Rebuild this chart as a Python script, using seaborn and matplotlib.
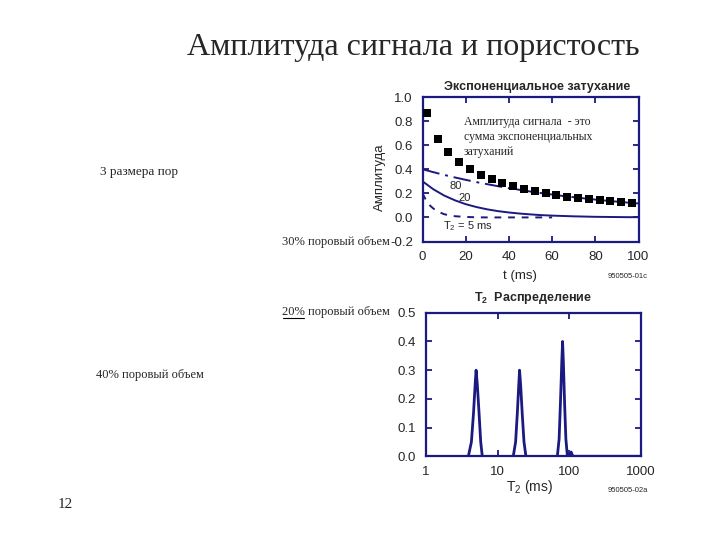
import matplotlib
matplotlib.use("Agg")
import pandas as pd
import matplotlib.pyplot as plt
import seaborn as sns

# Экспоненциальное затухание : сумма (квадраты) и три компоненты
t_sum = [2, 7, 12, 17, 22, 27, 32, 37, 42, 47, 52, 57, 62, 67, 72, 77, 82, 87, 92, 97]
amp_sum = [0.866, 0.655, 0.540, 0.460, 0.402, 0.350, 0.315, 0.283, 0.258, 0.236,
           0.216, 0.199, 0.184, 0.171, 0.160, 0.150, 0.141, 0.133, 0.126, 0.119]

t_comp = [0, 5, 10, 15, 20, 25, 30, 35, 40, 45, 50, 55, 60, 65, 70, 75, 80, 85, 90, 95, 100]
amp_80 = [0.400, 0.376, 0.353, 0.332, 0.312, 0.293, 0.276, 0.259, 0.243, 0.229, 0.215,
          0.202, 0.190, 0.178, 0.168, 0.158, 0.148, 0.139, 0.131, 0.123, 0.116]
amp_20 = [0.300, 0.234, 0.182, 0.142, 0.110, 0.086, 0.067, 0.052, 0.041, 0.032, 0.025,
          0.019, 0.015, 0.012, 0.009, 0.007, 0.005, 0.004, 0.003, 0.002, 0.002]

t_comp5 = [0, 1.25, 2.5, 3.75, 5, 7.5, 10, 12.5, 15, 20, 25, 30, 40, 50, 60]
amp_5 = [0.200, 0.156, 0.121, 0.094, 0.074, 0.045, 0.027, 0.016, 0.010, 0.004,
         0.001, 0.0, 0.0, 0.0, 0.0]

# T2 распределение
t2_p1 = [3.9, 4.3, 4.6, 4.85, 5.0, 5.2, 5.5, 5.8, 6.1]
a_p1 = [0.0, 0.05, 0.15, 0.25, 0.30, 0.25, 0.15, 0.05, 0.0]
t2_p2 = [16.5, 17.8, 18.8, 19.7, 20.2, 20.9, 22.0, 23.3, 24.8]
a_p2 = [0.0, 0.05, 0.15, 0.25, 0.30, 0.25, 0.15, 0.05, 0.0]
t2_p3 = [68, 72, 75, 78.5, 80.5, 82.5, 86, 89.5, 94, 100, 106, 112, 1000]
a_p3 = [0.0, 0.06, 0.18, 0.33, 0.40, 0.33, 0.18, 0.06, 0.0, 0.0, 0.015, 0.0, 0.0]

navy = "#1a1a80"
serif = "Liberation Serif"
sans = "Liberation Sans"

sns.set_style("ticks")
plt.rcParams["font.family"] = [sans, "DejaVu Sans"]
plt.rcParams["mathtext.default"] = "regular"

fig = plt.figure(figsize=(7.2, 5.4), dpi=100)


def px(x, y):
    return x / 720, 1 - y / 540


#--------------------------------------------------------------------------------------------
# Верхний график
#--------------------------------------------------------------------------------------------
ax1 = fig.add_axes([422.5 / 720, 1 - 241.5 / 540, 216 / 720, 144.5 / 540])
sns.lineplot(x=t_comp, y=amp_80, ax=ax1, color=navy, linewidth=1.4)
ax1.lines[-1].set_dashes([9, 3, 1.5, 3])
sns.lineplot(x=t_comp, y=amp_20, ax=ax1, color=navy, linewidth=1.4)
sns.lineplot(x=t_comp5, y=amp_5, ax=ax1, color=navy, linewidth=1.4)
ax1.lines[-1].set_dashes([3.5, 3.5])
sns.scatterplot(x=t_sum, y=amp_sum, ax=ax1, color="black", marker="s", s=38,
                linewidth=0, zorder=5)
ax1.set_xlim(0, 100)
ax1.set_ylim(-0.2, 1.0)
ax1.set_xticks([0, 20, 40, 60, 80, 100])
ax1.set_yticks([-0.2, 0.0, 0.2, 0.4, 0.6, 0.8, 1.0])
ax1.set_yticklabels(["-0.2", "0.0", "0.2", "0.4", "0.6", "0.8", "1.0"])
ax1.tick_params(direction="in", top=True, right=True, length=4, width=1.3,
                color=navy, labelsize=9.5, pad=7)
ax1.get_yticklabels()[0].set_y(-0.17)
for s in ax1.spines.values():
    s.set_visible(True)
    s.set_color(navy)
    s.set_linewidth(1.6)
ax1.set_xlabel("")
ax1.set_ylabel("")

fig.text(*px(537, 87), "Экспоненциальное затухание", fontsize=9, fontweight="bold",
         ha="center", va="center")
fig.text(*px(380, 177), "Амплитуда", fontsize=9.5, rotation=90, ha="center", va="center")
fig.text(*px(520, 276), "t (ms)", fontsize=9.5, ha="center", va="center")
fig.text(*px(628, 277), "950505-01c", fontsize=5.5, ha="center", va="center")
fig.text(*px(464, 137), "Амплитуда сигнала  - это\nсумма экспоненциальных\nзатуханий",
         fontsize=8.5, family=serif, ha="left", va="center", linespacing=1.3)
fig.text(*px(456, 186), "80", fontsize=8, ha="center", va="center")
fig.text(*px(465, 198), "20", fontsize=8, ha="center", va="center")
fig.text(*px(443, 226), "T$_2$ = 5 ms", fontsize=8, ha="left", va="center")

#--------------------------------------------------------------------------------------------
# Нижний график
#--------------------------------------------------------------------------------------------
dist = pd.DataFrame({
    "t2": t2_p1 + t2_p2 + t2_p3,
    "amp": a_p1 + a_p2 + a_p3,
    "peak": [1] * len(t2_p1) + [2] * len(t2_p2) + [3] * len(t2_p3),
})
ax2 = fig.add_axes([426 / 720, 1 - 456.3 / 540, 215 / 720, 143.5 / 540])
sns.lineplot(data=dist, x="t2", y="amp", units="peak", estimator=None, ax=ax2,
             color=navy, linewidth=2.0)
ax2.set_xscale("log")
ax2.set_xlim(1, 1000)
ax2.set_ylim(0, 0.5)
ax2.set_xticks([1, 10, 100, 1000])
ax2.set_xticklabels(["1", "10", "100", "1000"])
ax2.xaxis.set_minor_locator(matplotlib.ticker.NullLocator())
ax2.set_yticks([0.0, 0.1, 0.2, 0.3, 0.4, 0.5])
ax2.set_yticklabels(["0.0", "0.1", "0.2", "0.3", "0.4", "0.5"])
ax2.tick_params(direction="in", top=True, right=True, length=4, width=1.3,
                color=navy, labelsize=9.5, pad=7)
for s in ax2.spines.values():
    s.set_visible(True)
    s.set_color(navy)
    s.set_linewidth(1.6)
ax2.set_xlabel("")
ax2.set_ylabel("")

fig.text(*px(533, 298), "T$_2$  Распределение", fontsize=9, fontweight="bold",
         ha="center", va="center")
fig.text(*px(530, 487), "T$_2$ (ms)", fontsize=10, ha="center", va="center")
fig.text(*px(628, 490), "950505-02a", fontsize=5.5, ha="center", va="center")

#--------------------------------------------------------------------------------------------
# Текст слайда
#--------------------------------------------------------------------------------------------
fig.text(*px(413, 47), "Амплитуда сигнала и пористость", fontsize=23, family=serif,
         ha="center", va="center")
fig.text(*px(100, 172), "3 размера пор", fontsize=9.5, family=serif, ha="left", va="center")
fig.text(*px(390, 242), "30% поровый объем", fontsize=9, family=serif, ha="right", va="center")
fig.text(*px(390, 312), "20% поровый объем", fontsize=9, family=serif,
         ha="right", va="center")
fig.text(*px(96, 375), "40% поровый объем", fontsize=9, family=serif, ha="left", va="center")
fig.text(*px(58, 505), "12", fontsize=11, family=serif, ha="left", va="center")
# подчёркивание "20%"
fig.add_artist(matplotlib.lines.Line2D([283 / 720, 304 / 720], [1 - 318 / 540, 1 - 318 / 540],
                                       color="black", linewidth=0.8))

fig.savefig("out.png", dpi=100)
